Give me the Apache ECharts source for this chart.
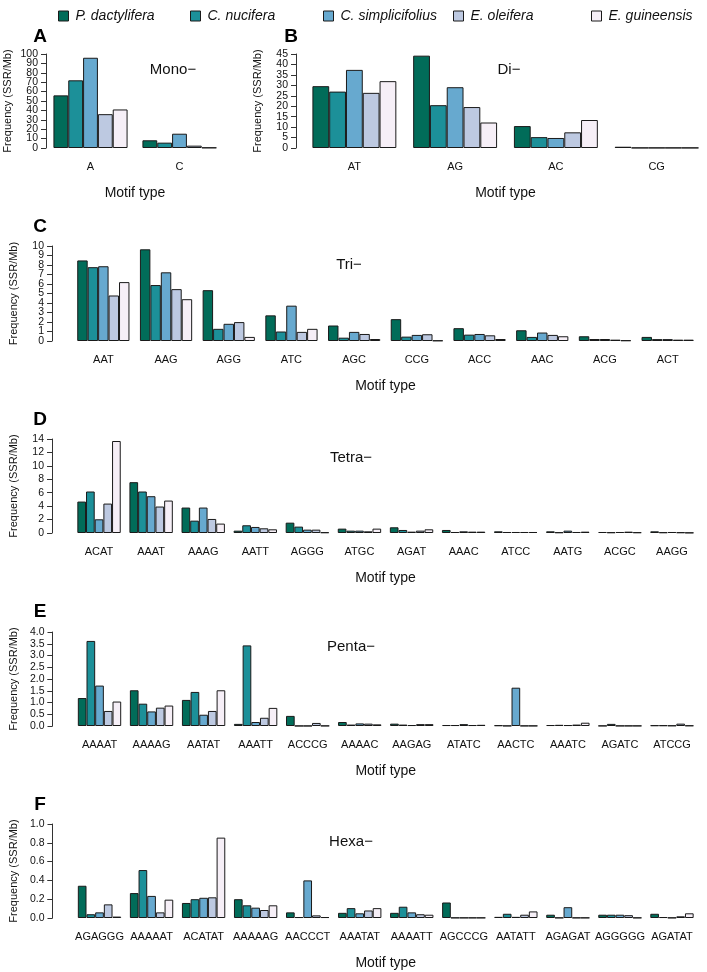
<!DOCTYPE html>
<html>
<head>
<meta charset="utf-8">
<script src="https://cdn.jsdelivr.net/npm/echarts@6/dist/echarts.min.js"></script>
<style>
html,body{margin:0;padding:0;background:#fff;}
#chart{width:707px;height:972px;}
</style>
</head>
<body>
<div id="chart"></div>
<script>
// ---------- data ----------
const species = ['P. dactylifera', 'C. nucifera', 'C. simplicifolius', 'E. oleifera', 'E. guineensis'];
const colors = ['#016c59', '#1c9099', '#67a9cf', '#bdc9e1', '#f6eff7'];

// Panel A: Mono-
const monoCats = ['A', 'C'];
const monoPD = [56, 8.2];
const monoCN = [72, 5.7];
const monoCS = [96, 15.2];
const monoEO = [36, 2.5];
const monoEG = [41, 0.4];

// Panel B: Di-
const diCats = ['AT', 'AG', 'AC', 'CG'];
const diPD = [29.6, 44.2, 10.5, 0.6];
const diCN = [27.0, 20.5, 5.2, 0.1];
const diCS = [37.4, 29.1, 4.8, 0.1];
const diEO = [26.4, 19.6, 7.5, 0.1];
const diEG = [32.0, 12.2, 13.4, 0.1];

// Panel C: Tri-
const triCats = ['AAT', 'AAG', 'AGG', 'ATC', 'AGC', 'CCG', 'ACC', 'AAC', 'ACG', 'ACT'];
const triPD = [8.48, 9.65, 5.35, 2.7, 1.63, 2.3, 1.35, 1.13, 0.5, 0.43];
const triCN = [7.77, 5.89, 1.28, 1.0, 0.35, 0.46, 0.67, 0.43, 0.21, 0.2];
const triCS = [7.87, 7.23, 1.81, 3.72, 0.96, 0.64, 0.74, 0.89, 0.21, 0.2];
const triEO = [4.79, 5.46, 1.99, 0.96, 0.74, 0.71, 0.6, 0.64, 0.14, 0.14];
const triEG = [6.2, 4.4, 0.43, 1.28, 0.21, 0.05, 0.21, 0.5, 0.07, 0.14];

// Panel D: Tetra-
const tetraCats = ['ACAT', 'AAAT', 'AAAG', 'AATT', 'AGGG', 'ATGC', 'AGAT', 'AAAC', 'ATCC', 'AATG', 'ACGC', 'AAGG'];
const tetraPD = [4.68, 7.57, 3.79, 0.35, 1.54, 0.65, 0.85, 0.45, 0.25, 0.25, 0.15, 0.25];
const tetraCN = [6.18, 6.18, 1.84, 1.15, 0.95, 0.35, 0.45, 0.15, 0.15, 0.1, 0.1, 0.1];
const tetraCS = [2.04, 5.48, 3.79, 0.9, 0.5, 0.35, 0.2, 0.25, 0.15, 0.35, 0.15, 0.15];
const tetraEO = [4.38, 3.94, 2.09, 0.7, 0.5, 0.25, 0.35, 0.2, 0.15, 0.15, 0.2, 0.1];
const tetraEG = [13.7, 4.83, 1.4, 0.55, 0.1, 0.65, 0.55, 0.2, 0.15, 0.2, 0.1, 0.05];

// Panel E: Penta-
const pentaCats = ['AAAAT', 'AAAAG', 'AATAT', 'AAATT', 'ACCCG', 'AAAAC', 'AAGAG', 'ATATC', 'AACTC', 'AAATC', 'AGATC', 'ATCCG'];
const pentaPD = [1.19, 1.52, 1.11, 0.09, 0.43, 0.17, 0.1, 0.04, 0.03, 0.04, 0.01, 0.03];
const pentaCN = [3.62, 0.95, 1.45, 3.43, 0.005, 0.06, 0.06, 0.04, 0.01, 0.05, 0.09, 0.03];
const pentaCS = [1.72, 0.62, 0.48, 0.17, 0.005, 0.11, 0.04, 0.08, 1.63, 0.04, 0.01, 0.02];
const pentaEO = [0.64, 0.78, 0.64, 0.35, 0.13, 0.1, 0.08, 0.04, 0.01, 0.06, 0.01, 0.1];
const pentaEG = [1.04, 0.87, 1.52, 0.77, 0.01, 0.07, 0.08, 0.05, 0.01, 0.14, 0.01, 0.02];

// Panel F: Hexa-
const hexaCats = ['AGAGGG', 'AAAAAT', 'ACATAT', 'AAAAAG', 'AACCCT', 'AAATAT', 'AAAATT', 'AGCCCG', 'AATATT', 'AGAGAT', 'AGGGGG', 'AGATAT'];
const hexaPD = [0.343, 0.265, 0.16, 0.2, 0.06, 0.055, 0.055, 0.165, 0.012, 0.035, 0.035, 0.045];
const hexaCN = [0.04, 0.51, 0.2, 0.135, 0.01, 0.105, 0.12, 0.003, 0.045, 0.003, 0.035, 0.01];
const hexaCS = [0.06, 0.235, 0.215, 0.11, 0.4, 0.05, 0.06, 0.003, 0.012, 0.115, 0.035, 0.003];
const hexaEO = [0.145, 0.06, 0.22, 0.085, 0.028, 0.08, 0.04, 0.003, 0.035, 0.003, 0.03, 0.018];
const hexaEG = [0.015, 0.195, 0.855, 0.135, 0.01, 0.105, 0.035, 0.003, 0.07, 0.003, 0.003, 0.05];

// y-axis ranges (tick labels)
const yMax = [100, 45, 10, 14, 4, 1];
const yStep = [10, 5, 1, 2, 0.5, 0.2];
const yDecimals = [0, 0, 0, 0, 1, 1];
const panelLetters = ['A', 'B', 'C', 'D', 'E', 'F'];
const panelNames = ['Mono\u2212', 'Di\u2212', 'Tri\u2212', 'Tetra\u2212', 'Penta\u2212', 'Hexa\u2212'];

// ---------- layout ----------
const panels = [
  {cats: monoCats, vals: [monoPD, monoCN, monoCS, monoEO, monoEG], grid: {left: 46, top: 54, width: 178, height: 94}, off: 0},
  {cats: diCats, vals: [diPD, diCN, diCS, diEO, diEG], grid: {left: 304, top: 54, width: 406, height: 94}, off: 8},
  {cats: triCats, vals: [triPD, triCN, triCS, triEO, triEG], grid: {left: 67, top: 246, width: 632, height: 95}, off: 20},
  {cats: tetraCats, vals: [tetraPD, tetraCN, tetraCS, tetraEO, tetraEG], grid: {left: 68, top: 439, width: 630, height: 94}, off: 21},
  {cats: pentaCats, vals: [pentaPD, pentaCN, pentaCS, pentaEO, pentaEG], grid: {left: 68, top: 632, width: 630, height: 94}, off: 21},
  {cats: hexaCats, vals: [hexaPD, hexaCN, hexaCS, hexaEO, hexaEG], grid: {left: 68, top: 824, width: 630, height: 94}, off: 21}
];
const letterPos = [[40, 37], [291, 37], [40, 227], [40, 420], [40, 612], [40, 805]];
const namePos = [[173, 70], [509, 70], [349, 265], [351, 458], [351, 647], [351, 842]];
const legendLeft = [53, 185, 318, 448, 586];

const FONT = '"Liberation Sans", Arial, Helvetica, sans-serif';
const TICKLBL = {margin: 8, fontSize: 10.5, color: '#111', fontFamily: FONT};

const grids = [], xAxes = [], yAxes = [], decoAxes = [], series = [], graphics = [];
panels.forEach((p, i) => {
  grids.push(Object.assign({containLabel: false}, p.grid));
  xAxes.push({
    type: 'category', gridIndex: i, data: p.cats,
    axisLine: {show: false}, axisTick: {show: false},
    axisLabel: {interval: 0, margin: 13, fontSize: 11, color: '#111', fontFamily: FONT},
    name: 'Motif type', nameLocation: 'middle', nameGap: 38,
    nameTextStyle: {fontSize: 14, color: '#111', fontFamily: FONT}
  });
  // main value axis: all inner tick labels
  yAxes.push({
    type: 'value', gridIndex: i, min: 0, max: yMax[i], interval: yStep[i], offset: p.off,
    axisLine: {show: true, lineStyle: {color: '#333', width: 1}},
    axisTick: {show: true, length: 5, lineStyle: {color: '#333'}},
    splitLine: {show: false},
    axisLabel: Object.assign({}, TICKLBL, {showMinLabel: false, showMaxLabel: false,
      formatter: v => v.toFixed(yDecimals[i])}),
    name: 'Frequency (SSR/Mb)', nameLocation: 'middle', nameGap: 33,
    nameTextStyle: {fontSize: 11, color: '#111', fontFamily: FONT}
  });
  // companion axis on the same grid carrying the end labels (min / max)
  decoAxes.push({
    type: 'value', gridIndex: i, min: 0, max: yMax[i], interval: yStep[i], offset: p.off, position: 'left',
    axisLine: {show: false},
    axisTick: {show: true, length: 5, lineStyle: {color: '#333'}},
    splitLine: {show: false},
    axisLabel: Object.assign({}, TICKLBL, {showMinLabel: true, showMaxLabel: true,
      formatter: v => (v === 0 || Math.abs(v - yMax[i]) < 1e-9) ? v.toFixed(yDecimals[i]) : ''})
  });
  p.vals.forEach((arr, j) => {
    series.push({
      type: 'bar', name: species[j], xAxisIndex: i, yAxisIndex: i, data: arr,
      barGap: '0%', barCategoryGap: '16.7%',
      itemStyle: {color: colors[j], borderColor: '#1a1a1a', borderWidth: 1},
      emphasis: {disabled: true}, animation: false
    });
  });
  graphics.push({type: 'text', x: letterPos[i][0], y: letterPos[i][1],
    style: {text: panelLetters[i], font: 'bold 19px ' + FONT, fill: '#000', align: 'center', verticalAlign: 'middle'}});
  graphics.push({type: 'text', x: namePos[i][0], y: namePos[i][1],
    style: {text: panelNames[i], font: '15px ' + FONT, fill: '#111', align: 'center', verticalAlign: 'middle'}});
});

const legends = species.map((s, j) => ({
  data: [s], left: legendLeft[j], top: 4, itemWidth: 10, itemHeight: 10, icon: 'rect',
  itemStyle: {borderColor: '#1a1a1a', borderWidth: 1},
  selectedMode: false, itemGap: 6,
  textStyle: {fontSize: 14, fontStyle: 'italic', color: '#111', fontFamily: FONT, padding: [0, 0, 0, 2]}
}));

const chart = echarts.init(document.getElementById('chart'), null, {renderer: 'canvas'});
chart.setOption({
  backgroundColor: '#fff',
  animation: false,
  legend: legends,
  grid: grids,
  xAxis: xAxes,
  yAxis: yAxes.concat(decoAxes),
  series: series,
  graphic: graphics
});
</script>
</body>
</html>
